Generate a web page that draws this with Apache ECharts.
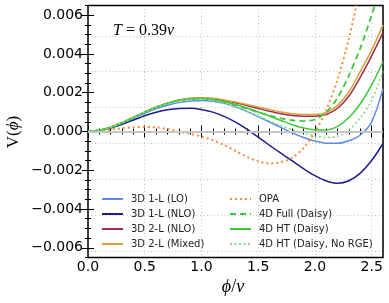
<!DOCTYPE html>
<html><head><meta charset="utf-8">
<script src="https://cdn.jsdelivr.net/npm/echarts@6/dist/echarts.min.js"></script>
<style>html,body{margin:0;padding:0;background:#fff}#c{width:389px;height:303px}</style>
</head><body><div id="c"></div>
<script>
// phi / v sample points
const phi = [0.0,0.1,0.2,0.3,0.4,0.5,0.6,0.7,0.8,0.9,1.0,1.1,1.2,1.3,1.4,1.5,1.6,1.7,1.8,1.9,2.0,2.1,2.2,2.3,2.4,2.5,2.6];
const lo1L   = [0,0.00006,0.00021,0.00043,0.00069,0.00094,0.00117,0.00135,0.00149,0.00157,0.00160,0.00156,0.00145,0.00127,0.00104,0.00077,0.00049,0.00021,-0.00007,-0.00031,-0.00049,-0.00060,-0.00061,-0.00048,-0.00018,0.00050,0.0022];
const nlo1L  = [0,0.00005,0.00018,0.00037,0.00059,0.00081,0.00099,0.00112,0.00119,0.00120,0.00114,0.00100,0.00078,0.00048,0.00012,-0.00029,-0.00071,-0.00112,-0.00152,-0.00192,-0.00228,-0.00255,-0.00267,-0.00254,-0.00215,-0.00150,-0.00062];
const nlo2L  = [0,0.00006,0.00022,0.00045,0.00073,0.00100,0.00125,0.00145,0.00161,0.00170,0.00173,0.00169,0.00160,0.00148,0.00134,0.00119,0.00104,0.00092,0.00083,0.00079,0.00079,0.00088,0.00120,0.00183,0.0028,0.0039,0.0051];
const mixed2L= [0,0.00006,0.00022,0.00045,0.00073,0.00100,0.00125,0.00146,0.00162,0.00171,0.00174,0.00171,0.00163,0.00152,0.00139,0.00126,0.00113,0.00101,0.00092,0.00088,0.00088,0.00098,0.00135,0.00205,0.0031,0.0042,0.0055];
const opa    = [0,0.00003,0.00010,0.00017,0.00022,0.00024,0.00021,0.00013,-0.00001,-0.00012,-0.00026,-0.00045,-0.00070,-0.00100,-0.00130,-0.00154,-0.00165,-0.00158,-0.00135,-0.00085,-0.00003,0.00110,0.00270,0.00480,0.00750,0.01050,0.01400];
const full4D = [0,0.00006,0.00022,0.00045,0.00073,0.00100,0.00125,0.00145,0.00160,0.00168,0.00170,0.00164,0.00152,0.00136,0.00118,0.00099,0.00082,0.00068,0.00058,0.00054,0.00062,0.00100,0.00175,0.0029,0.0043,0.0060,0.0078];
const ht4D   = [0,0.00006,0.00022,0.00045,0.00073,0.00100,0.00125,0.00145,0.00160,0.00168,0.00170,0.00165,0.00154,0.00139,0.00121,0.00101,0.00080,0.00057,0.00035,0.00018,0.00009,0.00008,0.00026,0.00072,0.00143,0.00240,0.0036];
const htNoRGE= [0,0.00006,0.00022,0.00045,0.00072,0.00099,0.00123,0.00143,0.00157,0.00165,0.00167,0.00160,0.00146,0.00127,0.00104,0.00079,0.00054,0.00030,0.00009,-0.00008,-0.00023,-0.00031,-0.00024,0.00008,0.00070,0.00160,0.0031];
const yMajorTicks = [-0.006,-0.004,-0.002,0,0.002,0.004,0.006];
const names = ['3D 1-L (LO)','3D 1-L (NLO)','3D 2-L (NLO)','3D 2-L (Mixed)','OPA','4D Full (Daisy)','4D HT (Daisy)','4D HT (Daisy, No RGE)'];

const Y_MIN = -0.0065, Y_MAX = 0.0065, G_TOP = 5.5, G_H = 252, G_LEFT = 88, G_W = 295;
const GRID_EXT = 0.008; // helper grid for horizontal grid lines (min is a multiple of 0.002)
const pxPer = G_H / (Y_MAX - Y_MIN);

const chart = echarts.init(document.getElementById('c'), null, {renderer:'canvas'});
const pts = arr => phi.map((x,i)=>[x, arr[i]]);
const font = 'DejaVu Sans';
const gridStyle = {color:'#c2c2c2', width:1, type:[1,2.5]};
function mk(name, arr, color, type, width){
  return {name, type:'line', data: pts(arr), xAxisIndex:0, yAxisIndex:0, symbol:'none', smooth:0.3, clip:true,
    lineStyle:{color, width, type}, itemStyle:{color}, z:3};
}
const tickStyle = {color:'#000', width:1};
function xAx(pos, interval, len, labels, split){
  return {type:'value', min:0, max:2.6, interval, position:pos, gridIndex:0,
    axisLine:{show:false}, axisTick:{show:true, inside:true, length:len, lineStyle:tickStyle},
    axisLabel: labels ? {show:true, fontSize:14, fontFamily:font, color:'#000', margin:3, showMaxLabel:false,
       formatter: v => v.toFixed(1)} : {show:false},
    splitLine: split ? {show:true, lineStyle:gridStyle} : {show:false}};
}
function yMajor(pos, labels){
  return {type:'value', min:Y_MIN, max:Y_MAX, position:pos, gridIndex:0,
    axisLine:{show:false}, axisTick:{show:true, inside:true, length:6, lineStyle:tickStyle, customValues:yMajorTicks},
    axisLabel: labels ? {show:true, customValues:yMajorTicks, fontSize:14, fontFamily:font, color:'#000', margin:5,
       formatter: v => (v<0?'\u2212':'') + Math.abs(v).toFixed(3)} : {show:false},
    splitLine:{show:false}};
}
function yMinor(pos){
  return {type:'value', min:Y_MIN, max:Y_MAX, interval:0.0005, position:pos, gridIndex:0,
    axisLine:{show:false}, axisTick:{show:true, inside:true, length:3, lineStyle:tickStyle},
    axisLabel:{show:false}, splitLine:{show:false}};
}
const legendCommon = {orient:'vertical', top:189, itemWidth:21, itemHeight:10, itemGap:5,
  itemStyle:{opacity:0, color:'transparent', borderWidth:0},
  textStyle:{fontSize:10, fontFamily:font, color:'#222', padding:[0,0,0,3]}};
const option = {
  animation:false,
  backgroundColor:'#fff',
  grid:[
    {left:G_LEFT, top:G_TOP, width:G_W, height:G_H, show:true, borderColor:'#000', borderWidth:1.5, backgroundColor:'transparent', z:2},
    {left:G_LEFT, top:G_TOP - (GRID_EXT - Y_MAX)*pxPer, width:G_W, height:2*GRID_EXT*pxPer, show:false}
  ],
  xAxis:[xAx('bottom',0.5,6,true,true), xAx('bottom',0.1,3,false,false), xAx('top',0.5,6,false,false), xAx('top',0.1,3,false,false),
    {type:'value', gridIndex:1, min:0, max:2.6, show:false}],
  yAxis:[yMajor('left',true), yMinor('left'), yMajor('right',false), yMinor('right'),
    {type:'value', gridIndex:1, min:-GRID_EXT, max:GRID_EXT, interval:0.002, axisLine:{show:false}, axisTick:{show:false},
     axisLabel:{show:false}, splitLine:{show:true, showMinLine:false, showMaxLine:false, lineStyle:gridStyle}, z:0}],
  legend:[
    Object.assign({data:names.slice(0,4), left:96}, legendCommon),
    Object.assign({data:names.slice(4), left:224}, legendCommon)
  ],
  graphic:[
    {type:'text', left:113, top:23, style:{text:'{i|T} = 0.39{i|v}', font:'16px "Liberation Serif"', fill:'#000',
      rich:{i:{fontStyle:'italic', fontFamily:'Liberation Serif', fontSize:16}}}},
    {type:'text', x:233, y:287, style:{text:'{i|ϕ}/{i|v}', font:'18px "Liberation Serif"', fill:'#000', align:'center', verticalAlign:'middle',
      rich:{i:{fontStyle:'italic', fontFamily:'Liberation Serif', fontSize:18}}}},
    {type:'text', x:14, y:132, rotation:Math.PI/2, style:{text:'V({i|ϕ})', font:'17px "Liberation Serif"', fill:'#000', align:'center', verticalAlign:'middle',
      rich:{i:{fontStyle:'italic', fontFamily:'Liberation Serif', fontSize:17}}}}
  ],
  series:[
    {type:'line', data:[], xAxisIndex:0, yAxisIndex:0, z:1, silent:true,
     markLine:{silent:true, symbol:'none', label:{show:false}, lineStyle:{color:'#c4c4c4', width:2, type:'solid'}, data:[{yAxis:0}]}},
    mk(names[0], lo1L, '#5b8be6', 'solid', 1.5),
    mk(names[1], nlo1L, '#1c1c8c', 'solid', 1.5),
    mk(names[2], nlo2L, '#a02c4c', 'solid', 1.5),
    mk(names[3], mixed2L, '#d6a23a', 'solid', 1.5),
    mk(names[4], opa, '#fb8a3c', [2,3], 2),
    mk(names[5], full4D, '#3cc83c', [6,4], 1.8),
    mk(names[6], ht4D, '#3cc83c', 'solid', 1.5),
    mk(names[7], htNoRGE, '#7ee07e', [2,2.5], 1.6)
  ]
};
chart.setOption(option);
</script></body></html>
